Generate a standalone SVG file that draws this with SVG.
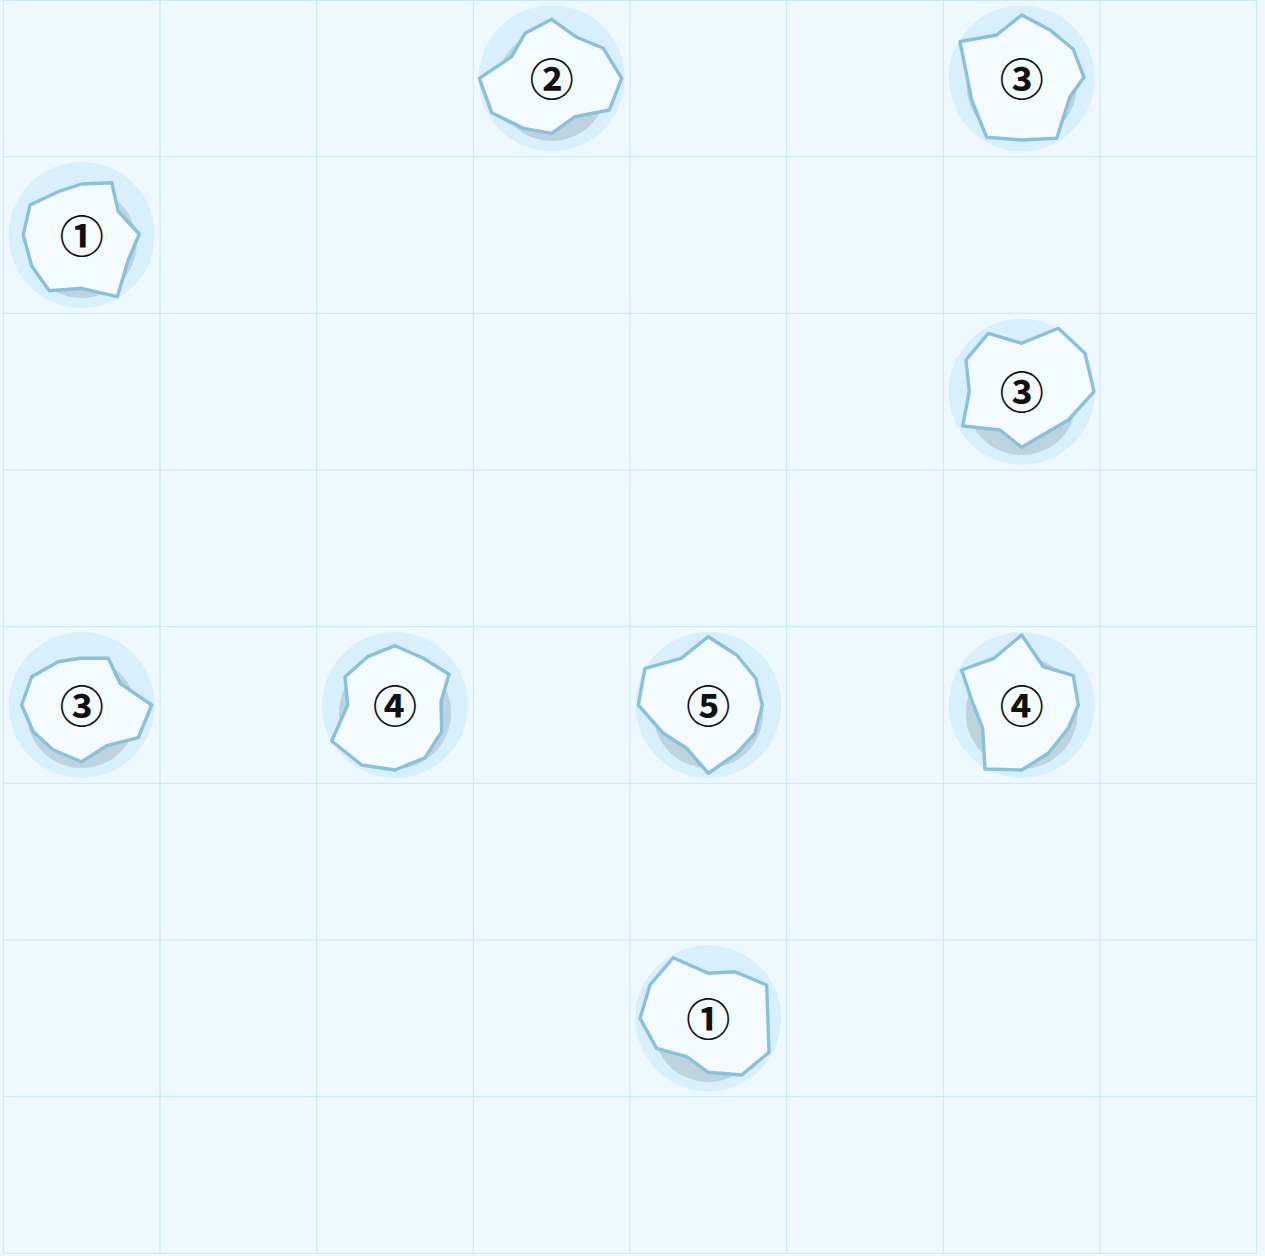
<svg xmlns="http://www.w3.org/2000/svg" width="1265" height="1256" viewBox="0 0 1265 1256">
<style>
.bg{fill:#eef8ff}
.grid line{stroke:#c9e6fa;stroke-width:1}
.halo{fill:#d8effd}
.shadow{fill:#bdd3de}
.poly{fill:#f3fbff;stroke:#8bc0da;stroke-width:3.4;stroke-linejoin:round}
.lbl{font-family:"Noto Sans CJK JP","Noto Sans CJK SC",sans-serif;font-weight:bold;font-size:44px;fill:#111;text-anchor:middle;dominant-baseline:central}
</style>
<rect class="bg" x="0" y="0" width="1265" height="1256"/>
<g class="grid">
<line x1="3.3" y1="0" x2="3.3" y2="1253.3"/>
<line x1="160" y1="0" x2="160" y2="1253.3"/>
<line x1="316.7" y1="0" x2="316.7" y2="1253.3"/>
<line x1="473.3" y1="0" x2="473.3" y2="1253.3"/>
<line x1="630" y1="0" x2="630" y2="1253.3"/>
<line x1="786.7" y1="0" x2="786.7" y2="1253.3"/>
<line x1="943.3" y1="0" x2="943.3" y2="1253.3"/>
<line x1="1100" y1="0" x2="1100" y2="1253.3"/>
<line x1="1256.7" y1="0" x2="1256.7" y2="1253.3"/>
<line x1="3.3" y1="0.5" x2="1256.7" y2="0.5"/>
<line x1="3.3" y1="156.7" x2="1256.7" y2="156.7"/>
<line x1="3.3" y1="313.3" x2="1256.7" y2="313.3"/>
<line x1="3.3" y1="470" x2="1256.7" y2="470"/>
<line x1="3.3" y1="626.7" x2="1256.7" y2="626.7"/>
<line x1="3.3" y1="783.3" x2="1256.7" y2="783.3"/>
<line x1="3.3" y1="940" x2="1256.7" y2="940"/>
<line x1="3.3" y1="1096.7" x2="1256.7" y2="1096.7"/>
<line x1="3.3" y1="1253.3" x2="1256.7" y2="1253.3"/>
</g>
<g id="connectors"></g>
<g id="node-2-a">
<circle class="halo" cx="551.7" cy="78.3" r="73"/>
<circle class="shadow" cx="551.7" cy="86" r="55"/>
<polygon class="poly" points="551.7,19.3 576.7,37.3 603.3,48.3 621.7,78.3 609.3,110 575,116.7 551.7,133.3 523.3,128.3 491.7,112.7 479.3,78.3 511.7,56.7 525,33.3"/>
<text class="lbl" x="551.7" y="77">②</text>
</g>
<g id="node-3-a">
<circle class="halo" cx="1021.7" cy="78.3" r="73"/>
<circle class="shadow" cx="1021.7" cy="86" r="55"/>
<polygon class="poly" points="1021.7,15 1050,30 1073.3,49.3 1084,77.3 1070,96.7 1056.7,138.3 1021.7,140 986.7,137.3 971.7,100 960,41.7 996.7,35"/>
<text class="lbl" x="1021.7" y="77">③</text>
</g>
<g id="node-1-a">
<circle class="halo" cx="81.7" cy="235" r="73"/>
<circle class="shadow" cx="81.7" cy="243" r="55"/>
<polygon class="poly" points="111.7,182.7 118.3,211.7 139.3,234 128.3,260 117.3,296.7 81.7,288.3 49.3,290.7 31.7,266 23.3,235 30,205 58.3,191.7 81.7,184"/>
<text class="lbl" x="81.7" y="233.7">①</text>
</g>
<g id="node-3-b">
<circle class="halo" cx="1021.7" cy="391.7" r="73"/>
<circle class="shadow" cx="1021.7" cy="400" r="55"/>
<polygon class="poly" points="1021.7,343.3 1058.3,328.3 1085,353.3 1094,391.7 1068.3,420 1021.7,447.3 1000,430 962.7,426 969.3,391.7 966,360 988.3,333.3"/>
<text class="lbl" x="1021.7" y="390.4">③</text>
</g>
<g id="node-3-c">
<circle class="halo" cx="81.7" cy="705" r="73"/>
<circle class="shadow" cx="81.7" cy="713" r="55"/>
<polygon class="poly" points="108.3,658.3 120,683.3 151.7,705 138.3,737.7 106.7,745.7 81.7,761.7 53.3,750 33.3,731.7 21.7,705 31.7,676.7 58.3,661.7 80,658.3"/>
<text class="lbl" x="81.7" y="703.7">③</text>
</g>
<g id="node-4-a">
<circle class="halo" cx="395" cy="705" r="73"/>
<circle class="shadow" cx="395" cy="713" r="56"/>
<polygon class="poly" points="395,645.7 423.3,658.3 449,674.3 441,701.7 441.7,731.7 425,757.7 395,770 361.7,765 331.7,741 347.7,705 345,676.7 367.7,656.7"/>
<text class="lbl" x="395" y="703.7">④</text>
</g>
<g id="node-5">
<circle class="halo" cx="708.3" cy="705" r="73"/>
<circle class="shadow" cx="708.3" cy="713" r="55"/>
<polygon class="poly" points="708.3,636.7 736.7,655 755.7,678.3 762.3,705 755,733.3 736.7,753.3 708.3,773.3 686.7,748.3 663.3,733.3 638.3,705 645,668.3 681,658.3"/>
<text class="lbl" x="708.3" y="703.7">⑤</text>
</g>
<g id="node-4-b">
<circle class="halo" cx="1021.7" cy="705" r="73"/>
<circle class="shadow" cx="1021.7" cy="713" r="56"/>
<polygon class="poly" points="1021.7,635 1043.3,666.7 1073.3,675.7 1078.3,705 1068.3,728.3 1048.3,753.3 1021.7,770 985,769 982.7,728.3 971.7,700 961.7,670 994,658.3"/>
<text class="lbl" x="1021.7" y="703.7">④</text>
</g>
<g id="node-1-b">
<circle class="halo" cx="708.3" cy="1018.3" r="73"/>
<circle class="shadow" cx="708.3" cy="1027" r="55"/>
<polygon class="poly" points="673.3,957.7 708.3,973.3 735,971.7 766.7,985 769,1052.3 741.7,1075 708.3,1072.3 686.7,1056.7 656.7,1048.3 640,1018.3 650,985"/>
<text class="lbl" x="708.3" y="1017">①</text>
</g>
</svg>
